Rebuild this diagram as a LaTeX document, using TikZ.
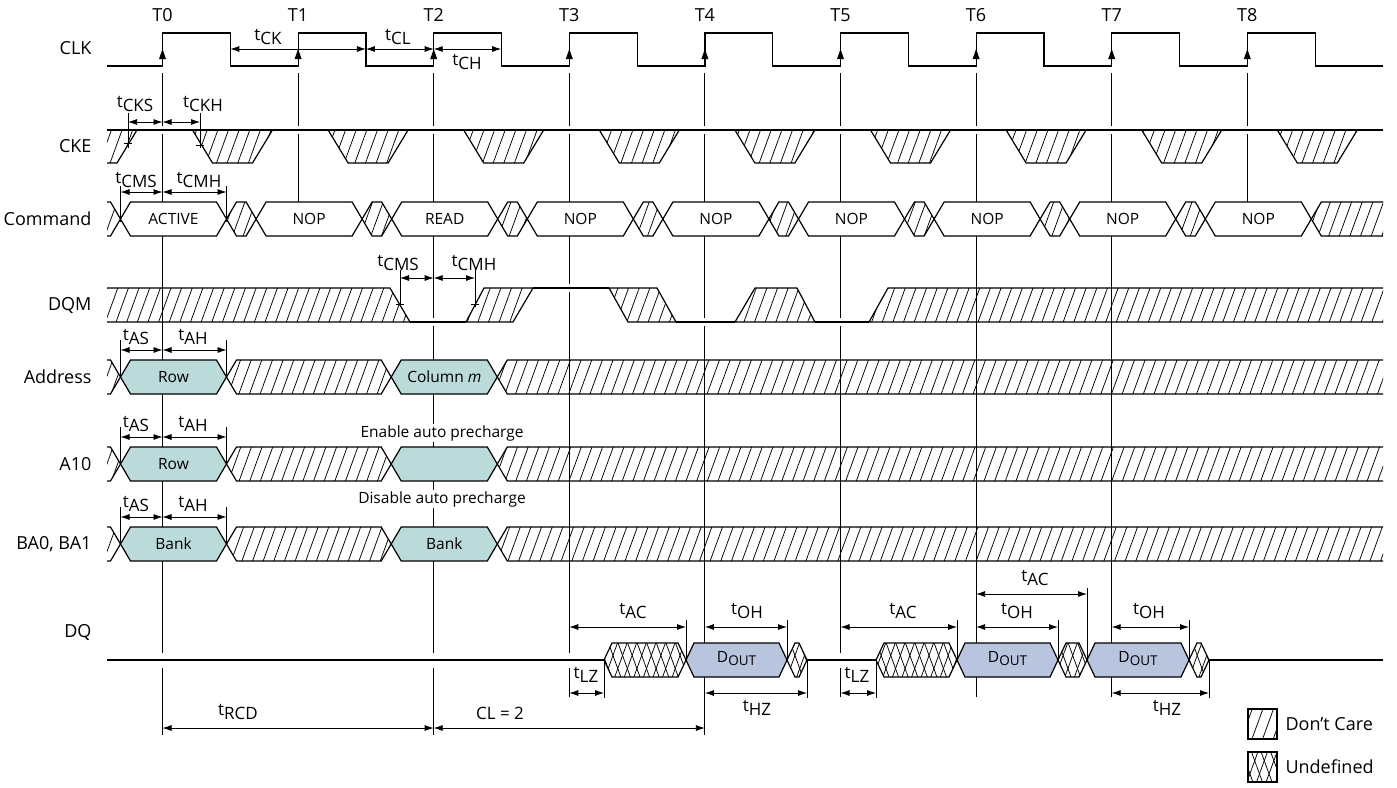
\documentclass[tikz,border=0pt]{standalone}
\usepackage{fontspec}
\setmainfont{Open Sans}
\usetikzlibrary{arrows.meta,patterns.meta}

\definecolor{rowfill}{RGB}{187,218,218}
\definecolor{doutfill}{RGB}{185,197,222}

\newcommand\bslant{10}
\newcommand\hexpath[4]{({#1},{(#3+#4)/2}) -- ({#1+\bslant},#3) -- ({#2-\bslant},#3) -- ({#2},{(#3+#4)/2}) -- ({#2-\bslant},#4) -- ({#1+\bslant},#4) -- cycle}
\newcommand\tsub[1]{t\raisebox{-3.5pt}{#1}}
\newcommand\dout{D\raisebox{-3pt}{\fontsize{13.5}{15}\selectfont OUT}}
\newcommand\lblfont{\fontsize{18}{21}\selectfont}
\newcommand\busfont{\fontsize{15.5}{18}\selectfont}
\newcommand\timfont{\fontsize{17}{20}\selectfont}

\begin{document}
\begin{tikzpicture}[x=1pt,y=-1pt,>={Latex[length=9pt,width=6pt]},
    sig/.style={line width=1.2pt},
    level/.style={sig,preaction={draw=white,line width=8pt}},
    tline/.style={line width=0.9pt},
    ext/.style={line width=0.8pt},
    dim/.style={<->,line width=0.8pt},
    dc/.style={sig,draw,pattern={Lines[angle=70,distance=10pt,line width=0.75pt]}},
    ud/.style={sig,draw,preaction={fill=white},pattern={Lines[angle=70,distance=9pt,line width=0.75pt]},
               postaction={pattern={Lines[angle=110,distance=9pt,line width=0.75pt]}}},
    cmdbox/.style={sig,draw,fill=white},
    addrbox/.style={sig,draw,fill=rowfill},
    doutbox/.style={sig,draw,fill=doutfill},
    rowlab/.style={anchor=east,font=\lblfont},
    toplab/.style={font=\lblfont},
    buslab/.style={font=\busfont},
    tlab/.style={font=\timfont,inner sep=1pt},
    note/.style={font=\busfont,fill=white,inner sep=1pt}]
  \useasboundingbox (0,0) rectangle (1397,787);

  \foreach \i/\len in {0/662,1/129,2/662,3/624,4/662,5/624,6/624,7/624,8/129} {
    \coordinate (T\i) at ({162.5+135.6*\i},73);
    \node[toplab] (lt\i) at ({162.5+135.6*\i},15) {T\i};
    \draw[tline] (T\i) -- ++(0,\len);
  }

  \begin{scope}
    \clip (107,0) rectangle (1383,787);
    % CLK
    \draw[sig] (107,66) foreach \i in {0,...,8} { -- ({162.5+135.6*\i},66) -- ++(0,-33) -- ++(67.8,0) -- ++(0,33) } -- (1383,66);
    \foreach \i in {0,...,8}
      \fill ({162.5+135.6*\i},49) -- ++(-3.5,10) -- ++(7,0) -- cycle;
    % CKE
    \draw[level] (107,130) -- (1383,130);
    \draw[dc] (90,130) -- (137,130) -- (117,163) -- (90,163) -- cycle;
    \foreach \i in {0,...,8}
      \draw[dc] ({192.5+135.6*\i},130) -- ++(20,33) -- ++(40,0) -- ++(20,-33) -- cycle;
    % Command
    \foreach \i in {-1,...,7} {
      \pgfmathsetmacro\xa{226.5+135.6*\i}
      \draw[dc] \hexpath{\xa}{\xa+29.6}{202}{236};
    }
    \draw[dc] \hexpath{1311.3}{1440}{202}{236};
    \foreach \i/\cmd in {0/ACTIVE,1/NOP,2/READ,3/NOP,4/NOP,5/NOP,6/NOP,7/NOP,8/NOP} {
      \pgfmathsetmacro\xa{120.5+135.6*\i}
      \draw[cmdbox] \hexpath{\xa}{\xa+106}{202}{236};
      \node[buslab] (cmd\i) at ({\xa+53},219) {\cmd};
    }
    % DQM
    \draw[dc] (90,288) -- (390,288) -- (410,322) -- (90,322) -- cycle;
    \draw[level] (410,322) -- (466,322);
    \draw[dc] (466,322) -- (484,288) -- (533,288) -- (513,322) -- cycle;
    \draw[level] (533,288) -- (609,288);
    \draw[dc] (609,288) -- (657,288) -- (676,322) -- (628,322) -- cycle;
    \draw[level] (676,322) -- (735,322);
    \draw[dc] (735,322) -- (755,288) -- (797,288) -- (815,322) -- cycle;
    \draw[level] (815,322) -- (869,322);
    \draw[dc] (869,322) -- (888,288) -- (1440,288) -- (1440,322) -- cycle;
    % Address, A10, BA0/BA1
    \foreach \yt/\first/\second in {360/Row/Column \textit{m},447/Row/,527/Bank/Bank} {
      \pgfmathsetmacro\yb{\yt+34}
      \draw[dc] \hexpath{90.9}{120.5}{\yt}{\yb};
      \draw[dc] \hexpath{226.5}{391.2}{\yt}{\yb};
      \draw[dc] \hexpath{497.3}{1440}{\yt}{\yb};
      \draw[addrbox] \hexpath{120.5}{226.5}{\yt}{\yb};
      \draw[addrbox] \hexpath{391.2}{497.3}{\yt}{\yb};
      \node[buslab] (a\yt) at (173.5,{\yt+17}) {\first};
      \node[buslab] (b\yt) at (444.3,{\yt+17}) {\second};
    }
    % DQ
    \renewcommand\bslant{8}
    \draw[sig,preaction={draw=white,line width=15pt}] (107,660) -- (1383,660);
    \draw[ud] \hexpath{604}{686}{643}{677};
    \draw[doutbox] \hexpath{686}{787}{643}{677};
    \draw[ud] \hexpath{787}{807}{643}{677};
    \draw[ud] \hexpath{876}{957}{643}{677};
    \draw[doutbox] \hexpath{957}{1058}{643}{677};
    \draw[ud] \hexpath{1058}{1087}{643}{677};
    \draw[doutbox] \hexpath{1087}{1189}{643}{677};
    \draw[ud] \hexpath{1189}{1209}{643}{677};
    \node[buslab] (d1) at (736.5,659) {\dout};
    \node[buslab] (d2) at (1007.5,659) {\dout};
    \node[buslab] (d3) at (1138,659) {\dout};
  \end{scope}

  % clock timings
  \coordinate (ck1) at (230.3,49);
  \coordinate (ck2) at (365.9,49);
  \coordinate (ck3) at (501.1,49);
  \draw[dim] (ck1) -- (ck2);
  \draw[dim] (ck2) -- (ck2 -| T2);
  \draw[dim] (ck2 -| T2) -- (ck3);
  \node[tlab] (tck) at (268,37) {\tsub{CK}};
  \node[tlab] (tcl) at (398,37) {\tsub{CL}};
  \node[tlab] (tch) at (467,62) {\tsub{CH}};

  % CKE timings
  \draw[ext] (128,113) -- (128,148) (124,143) -- (132,143);
  \draw[ext] (200,113) -- (200,148) (196,145) -- (204,145);
  \coordinate (cks) at (128,122);
  \coordinate (ckh) at (200,122);
  \draw[dim] (cks) -- (cks -| T0);
  \draw[dim] (cks -| T0) -- (ckh);
  \node[tlab] (tcks) at (135,104) {\tsub{CKS}};
  \node[tlab] (tckh) at (203,104) {\tsub{CKH}};

  % command timings
  \draw[ext] (120.5,186) -- (120.5,222) (226.5,186) -- (226.5,222);
  \coordinate (cms) at (120.5,192);
  \coordinate (cmh) at (226.5,192);
  \draw[dim] (cms) -- (cms -| T0);
  \draw[dim] (cms -| T0) -- (cmh);
  \node[tlab] (tcms) at (136,180) {\tsub{CMS}};
  \node[tlab] (tcmh) at (199,180) {\tsub{CMH}};

  % DQM timings
  \draw[ext] (400,270) -- (400,307) (396,304) -- (404,304);
  \draw[ext] (475,270) -- (475,307) (471,304) -- (479,304);
  \coordinate (dms) at (400,278);
  \coordinate (dmh) at (475,278);
  \draw[dim] (dms) -- (dms -| T2);
  \draw[dim] (dms -| T2) -- (dmh);
  \node[tlab] (tdms) at (398,263) {\tsub{CMS}};
  \node[tlab] (tdmh) at (474,263) {\tsub{CMH}};

  % address timings
  \foreach \yt in {360,447,527} {
    \draw[ext] (120.5,{\yt-20}) -- (120.5,{\yt+17}) (226.5,{\yt-20}) -- (226.5,{\yt+17});
    \coordinate (as\yt) at (120.5,{\yt-10});
    \coordinate (ah\yt) at (226.5,{\yt-10});
    \draw[dim] (as\yt) -- (as\yt -| T0);
    \draw[dim] (as\yt -| T0) -- (ah\yt);
    \node[tlab] (tas\yt) at (136,{\yt-23}) {\tsub{AS}};
    \node[tlab] (tah\yt) at (193,{\yt-23}) {\tsub{AH}};
  }
  \node[note] (en) at (442,433) {Enable auto precharge};
  \node[note] (dis) at (442,499) {Disable auto precharge};

  % DQ timings
  \draw[ext] (686,620) -- (686,660) (787,620) -- (787,660) (957,620) -- (957,660)
             (1058,620) -- (1058,660) (1189,620) -- (1189,660) (1087,588) -- (1087,660);
  \draw[ext] (604,660) -- (604,698) (807,660) -- (807,698) (876,660) -- (876,698) (1209,660) -- (1209,698);
  \coordinate (ac1) at (686,627);
  \coordinate (oh1) at (787,627);
  \coordinate (lz1) at (604,693);
  \coordinate (hz1) at (807,693);
  \coordinate (ac2) at (957,627);
  \coordinate (lz2) at (876,693);
  \coordinate (ac3) at (1087,594);
  \coordinate (oh2) at (1058,627);
  \coordinate (oh3) at (1189,627);
  \coordinate (hz2) at (1209,693);
  \coordinate (rcd) at (0,728);
  \draw[dim] (ac1 -| T3) -- (ac1);
  \draw[dim] (oh1 -| T4) -- (oh1);
  \draw[dim] (lz1 -| T3) -- (lz1);
  \draw[dim] (hz1 -| T4) -- (hz1);
  \draw[dim] (ac2 -| T5) -- (ac2);
  \draw[dim] (lz2 -| T5) -- (lz2);
  \draw[dim] (ac3 -| T6) -- (ac3);
  \draw[dim] (oh2 -| T6) -- (oh2);
  \draw[dim] (oh3 -| T7) -- (oh3);
  \draw[dim] (hz2 -| T7) -- (hz2);
  \draw[dim] (rcd -| T0) -- (rcd -| T2);
  \draw[dim] (rcd -| T2) -- (rcd -| T4);
  \node[tlab] (tac1) at (633,611) {\tsub{AC}};
  \node[tlab] (toh1) at (747,611) {\tsub{OH}};
  \node[tlab] (tlz1) at (586,675) {\tsub{LZ}};
  \node[tlab] (thz1) at (757,708) {\tsub{HZ}};
  \node[tlab] (tac2) at (903,611) {\tsub{AC}};
  \node[tlab] (tlz2) at (857,675) {\tsub{LZ}};
  \node[tlab] (tac3) at (1035,578) {\tsub{AC}};
  \node[tlab] (toh2) at (1017,611) {\tsub{OH}};
  \node[tlab] (toh3) at (1149,611) {\tsub{OH}};
  \node[tlab] (thz2) at (1167,708) {\tsub{HZ}};
  \node[tlab] (trcd) at (238,712) {\tsub{RCD}};
  \node[tlab] (cl) at (500,713) {CL = 2};

  % signal names
  \node[rowlab] (clk) at (95,48) {CLK};
  \node[rowlab] (cke) at (95,146) {CKE};
  \node[rowlab] (cmd) at (95,219) {Command};
  \node[rowlab] (dqm) at (95,305) {DQM};
  \node[rowlab] (addr) at (95,377) {Address};
  \node[rowlab] (a10) at (95,464) {A10};
  \node[rowlab] (ba) at (95,544) {BA0, BA1};
  \node[rowlab] (dq) at (95,632) {DQ};

  % legend
  \draw[dc] (1248,709) rectangle (1277,739);
  \draw[ud] (1248,752) rectangle (1277,782);
  \node[anchor=west,font=\lblfont] (ldc) at (1282,724) {Don’t Care};
  \node[anchor=west,font=\lblfont] (lud) at (1282,767) {Undefined};
\end{tikzpicture}
\end{document}
